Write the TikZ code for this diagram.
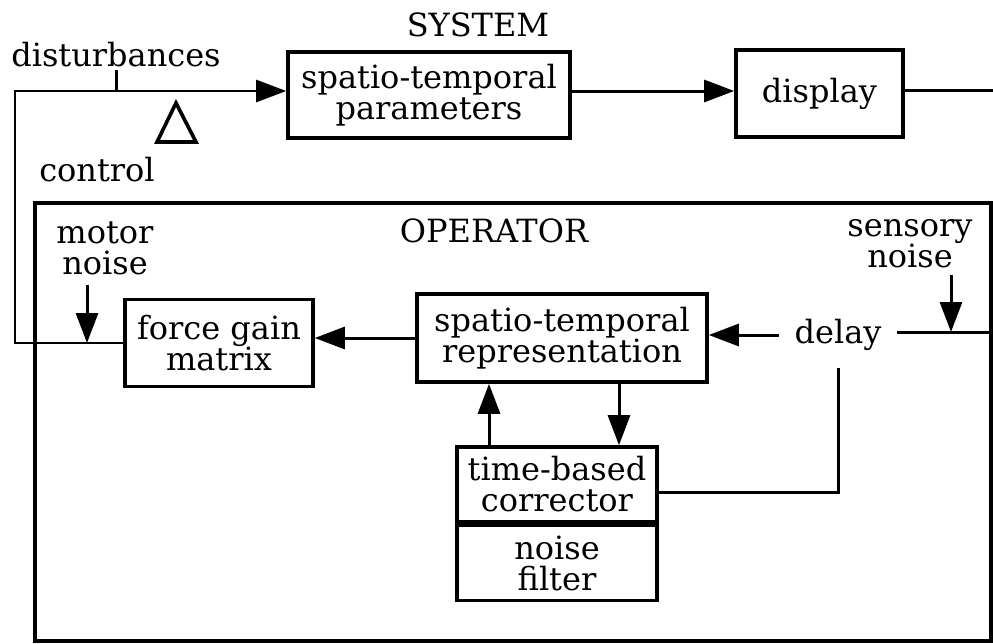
\documentclass[tikz,border=0pt]{standalone}
\usepackage{fontspec}
\setmainfont{DejaVu Serif}
\usetikzlibrary{arrows.meta,positioning}
\tikzset{>={Triangle[length=15pt,width=11pt]}}
\tikzset{blk/.style={draw, line width=1.8pt, inner sep=0pt, align=center, font=\fontsize{16}{15.5}\selectfont},
  lbl/.style={inner sep=2pt, align=center, font=\fontsize{16}{15.5}\selectfont}}

\begin{document}
\begin{tikzpicture}[x=0.5pt, y=-0.5pt, line width=1.5pt]
\useasboundingbox (0,0) rectangle (993,644);
% system part
\node[lbl] (sys) at (478,25) {SYSTEM};
\node[lbl] (dist) at (116,55) {disturbances};
\node[lbl] (ctrl) at (97,170) {control};
\node[blk, minimum width=141pt, minimum height=43pt] (par) at (429,95) {spatio-temporal\\parameters};
\node[blk, minimum width=83.5pt, minimum height=43.5pt] (disp) at (819.5,93.5) {display};
\coordinate (lft) at (15,91);
\coordinate (dtop) at (116,70);
\coordinate (rout) at (993,90);
\draw (dtop) -- (dtop |- lft);
\draw[line width=1.8pt] (176,103) -- (196,142) -- (157,142) -- cycle;
\draw[->] (par.east |- lft) -- (disp.west |- lft);
\draw (disp.east |- rout) -- (rout);
% operator part
\draw[line width=1.6pt] (35,203) rectangle (991,641);
\node[lbl] (op) at (494,231) {OPERATOR};
\node[lbl] (mnoise) at (105,248) {motor\\noise};
\node[lbl] (snoise) at (910,244) {sensory\\noise};
\node[blk, minimum width=94pt, minimum height=43.5pt] (fgm) at (219,343) {force gain\\matrix};
\node[blk, minimum width=145pt, minimum height=44pt] (rep) at (562,338) {spatio-temporal\\representation};
\node[lbl, inner xsep=7pt] (dly) at (838,335) {delay};
\node[blk, minimum width=100pt, minimum height=37.5pt] (corr) at (557,484.5) {time-based\\corrector};
\node[blk, minimum width=100pt, minimum height=37.5pt, below=0pt of corr] (filt) {noise\\filter};
\coordinate (mtop) at (87,285);
\coordinate (stop) at (951,275);
\coordinate (redge) at (991,332);
\coordinate (dbot) at (838,368);
\draw[->, line width=1.3pt] (fgm.west) -| (lft) -- (par.west |- lft);
\draw[->] (mtop) -- (mtop |- fgm.west);
\draw[->] (rep.west) -- (rep.west -| fgm.east);
\draw[->] (dly.west) -- (dly.west -| rep.east);
\draw (dly.east |- redge) -- (redge);
\draw[->] (stop) -- (stop |- redge);
\draw (dbot) |- ([yshift=-4pt]corr.east);
\draw[->] ([xshift=-34pt]corr.north) -- ([xshift=-34pt]corr.north |- rep.south);
\draw[->] ([xshift=31pt]corr.north |- rep.south) -- ([xshift=31pt]corr.north);
\end{tikzpicture}
\end{document}
